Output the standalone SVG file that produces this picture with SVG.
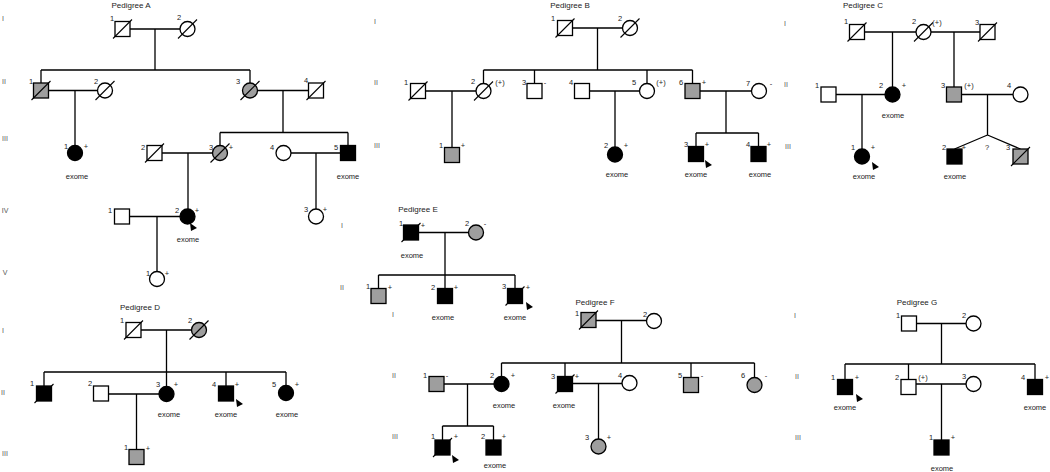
<svg xmlns="http://www.w3.org/2000/svg" xmlns:xlink="http://www.w3.org/1999/xlink" width="1050" height="472" viewBox="0 0 1050 472">
<style>
.w{fill:#fff;stroke:#000;stroke-width:1.3}
.g{fill:#9e9e9e;stroke:#000;stroke-width:1.3}
.b{fill:#000;stroke:#000;stroke-width:1.3}
.d{stroke:#000;stroke-width:1.1}
.ln{stroke:#000;stroke-width:1.3;fill:none}
text{font-family:"Liberation Sans",Arial,sans-serif;font-size:7.5px;fill:#222;text-anchor:middle}
.ttl{font-size:8px}
.gen{font-size:7px;fill:#555}
</style>
<defs>
<path id="pb" d="M-3,-4 L4,1 L-2,4 Z" fill="#000"/>
</defs>
<rect width="1050" height="472" fill="#fff"/>

<!-- ================= Connectors ================= -->
<g id="connectors" class="ln">
<!-- A -->
<path d="M130,29H180 M155,29V70 M41,70H250 M41,70V83 M250,70V83"/>
<path d="M48.5,90.5H97.5 M75,90.5V145.5"/>
<path d="M257.5,90.5H308.5 M283,90.5V132.5 M220,132.5H348 M220,132.5V145.5 M348,132.5V145.5"/>
<path d="M162,153H212.5 M188,153V209"/>
<path d="M291,153H340.5 M316,153V209"/>
<path d="M129.5,216.5H180 M157,216.5V271.5"/>
<!-- B -->
<path d="M572.5,28H622.5 M597.5,28V70 M483.5,70H692.5 M483.5,70V83.5 M534.5,70V83.5 M647,70V83.5 M692.5,70V83.5"/>
<path d="M425.5,91H476 M452,91V147.5"/>
<path d="M589.5,91H639.5 M615,91V147"/>
<path d="M700,91H751.5 M726,91V133 M696,133H758.5 M696,133V146.5 M758.5,133V146.5"/>
<!-- C -->
<path d="M864.5,32H916 M892.5,32V87"/>
<path d="M931,32H980 M954,32V87"/>
<path d="M836,94.5H885 M862,94.5V149"/>
<path d="M961.5,94.5H1013 M987.5,94.5V135 M987.5,135L954.5,149 M987.5,135L1020.5,149"/>
<!-- E -->
<path d="M418.5,232.5H468.5 M445,232.5V275 M378.5,275H515 M378.5,275V288.5 M445,275V288.5 M515,275V288.5"/>
<!-- D -->
<path d="M141,330H191.5 M166.5,330V372 M44,372H286 M44,372V386 M166.5,372V386.5 M226,372V386 M286,372V385.5"/>
<path d="M108.5,394H159 M136.5,394V449.5"/>
<!-- F -->
<path d="M596,320.5H646.5 M621.5,320.5V363 M501.5,363H754.5 M501.5,363V376.5 M565,363V376.5 M691,363V377.5 M754.5,363V377.5"/>
<path d="M444,384H494 M467.5,384V426 M442.5,426H493.5 M442.5,426V440 M493.5,426V440"/>
<path d="M572.5,383.5H622 M598.5,383.5V439"/>
<!-- G -->
<path d="M916.5,323.5H966 M941.5,323.5V364 M845,364H1035 M845,364V379.5 M908.5,364V379.5 M1035,364V379.5"/>
<path d="M916,384H966 M941.5,384V440"/>
</g>

<!-- ================= Titles & generation labels ================= -->
<g id="labels">
<text class="ttl" x="131" y="8">Pedigree A</text>
<text class="ttl" x="570" y="8">Pedigree B</text>
<text class="ttl" x="863" y="8">Pedigree C</text>
<text class="ttl" x="140" y="310">Pedigree D</text>
<text class="ttl" x="418" y="212">Pedigree E</text>
<text class="ttl" x="595" y="305">Pedigree F</text>
<text class="ttl" x="917" y="305">Pedigree G</text>
<text class="gen" x="3" y="21">I</text>
<text class="gen" x="4" y="84">II</text>
<text class="gen" x="5" y="141">III</text>
<text class="gen" x="5" y="213">IV</text>
<text class="gen" x="5" y="275">V</text>
<text class="gen" x="375" y="24">I</text>
<text class="gen" x="376" y="85">II</text>
<text class="gen" x="377" y="148">III</text>
<text class="gen" x="785" y="26">I</text>
<text class="gen" x="786" y="87">II</text>
<text class="gen" x="788" y="149">III</text>
<text class="gen" x="342" y="228">I</text>
<text class="gen" x="342" y="290">II</text>
<text class="gen" x="3" y="333">I</text>
<text class="gen" x="3" y="395">II</text>
<text class="gen" x="5" y="456">III</text>
<text class="gen" x="393" y="317">I</text>
<text class="gen" x="394" y="378">II</text>
<text class="gen" x="395" y="439">III</text>
<text class="gen" x="795" y="318">I</text>
<text class="gen" x="797" y="379">II</text>
<text class="gen" x="798" y="440">III</text>
</g>

<!-- ================= Pedigree A ================= -->
<g id="A-I-1"><rect class="w" x="115" y="21.5" width="15" height="15"/><line class="d" x1="113" y1="38.5" x2="132" y2="19.5"/><text x="112" y="21">1</text></g>
<g id="A-I-2"><circle class="w" cx="187.5" cy="29" r="7.5"/><line class="d" x1="178" y1="38.5" x2="197" y2="19.5"/><text x="179" y="20">2</text></g>
<g id="A-II-1"><rect class="g" x="33.5" y="83" width="15" height="15"/><line class="d" x1="31.5" y1="100" x2="50.5" y2="81"/><text x="31" y="84">1</text></g>
<g id="A-II-2"><circle class="w" cx="105" cy="90.5" r="7.5"/><line class="d" x1="95.5" y1="100" x2="114.5" y2="81"/><text x="96" y="84">2</text></g>
<g id="A-II-3"><circle class="g" cx="250" cy="90.5" r="7.5"/><line class="d" x1="240.5" y1="100" x2="259.5" y2="81"/><text x="238" y="84">3</text></g>
<g id="A-II-4"><rect class="w" x="308.5" y="83" width="15" height="15"/><line class="d" x1="306.5" y1="100" x2="325.5" y2="81"/><text x="306" y="83">4</text></g>
<g id="A-III-1"><circle class="b" cx="75" cy="153" r="7.5"/><text x="66" y="149">1</text><text x="86" y="149">+</text><text x="77" y="179">exome</text></g>
<g id="A-III-2"><rect class="w" x="147" y="145.5" width="15" height="15"/><line class="d" x1="145" y1="162.5" x2="164" y2="143.5"/><text x="143" y="150">2</text></g>
<g id="A-III-3"><circle class="g" cx="220" cy="153" r="7.5"/><line class="d" x1="210.5" y1="162.5" x2="229.5" y2="143.5"/><text x="211" y="150">3</text><text x="231" y="150">+</text></g>
<g id="A-III-4"><circle class="w" cx="283.5" cy="153" r="7.5"/><text x="272" y="150">4</text></g>
<g id="A-III-5"><rect class="b" x="340.5" y="145.5" width="15" height="15"/><text x="336" y="150">5</text><text x="348" y="179">exome</text></g>
<g id="A-IV-1"><rect class="w" x="114.5" y="209" width="15" height="15"/><text x="110" y="213">1</text></g>
<g id="A-IV-2"><circle class="b" cx="187.5" cy="216.5" r="7.5"/><text x="177" y="213">2</text><text x="197" y="213">+</text><use href="#pb" x="193" y="227"/><text x="188" y="242">exome</text></g>
<g id="A-IV-3"><circle class="w" cx="316" cy="216.5" r="7.5"/><text x="306" y="212">3</text><text x="325" y="212">+</text></g>
<g id="A-V-1"><circle class="w" cx="157" cy="279" r="7.5"/><text x="148" y="276">1</text><text x="167" y="276">+</text></g>

<!-- ================= Pedigree B ================= -->
<g id="B-I-1"><rect class="w" x="557.5" y="20.5" width="15" height="15"/><line class="d" x1="555.5" y1="37.5" x2="574.5" y2="18.5"/><text x="553" y="21">1</text></g>
<g id="B-I-2"><circle class="w" cx="630" cy="28" r="7.5"/><line class="d" x1="620.5" y1="37.5" x2="639.5" y2="18.5"/><text x="620" y="21">2</text></g>
<g id="B-II-1"><rect class="w" x="410.5" y="83.5" width="15" height="15"/><line class="d" x1="408.5" y1="100.5" x2="427.5" y2="81.5"/><text x="406" y="85">1</text></g>
<g id="B-II-2"><circle class="w" cx="483.5" cy="91" r="7.5"/><line class="d" x1="474" y1="100.5" x2="493" y2="81.5"/><text x="473" y="84">2</text><text x="500" y="85">(+)</text></g>
<g id="B-II-3"><rect class="w" x="527" y="83.5" width="15" height="15"/><text x="524" y="85">3</text><text x="545" y="85">-</text></g>
<g id="B-II-4"><rect class="w" x="574.5" y="83.5" width="15" height="15"/><text x="571" y="85">4</text></g>
<g id="B-II-5"><circle class="w" cx="647" cy="91" r="7.5"/><text x="634" y="85">5</text><text x="661" y="85">(+)</text></g>
<g id="B-II-6"><rect class="g" x="685" y="83.5" width="15" height="15"/><text x="681" y="85">6</text><text x="704" y="85">+</text></g>
<g id="B-II-7"><circle class="w" cx="759" cy="91" r="7.5"/><text x="748" y="86">7</text><text x="771" y="86">-</text></g>
<g id="B-III-1"><rect class="g" x="444.5" y="147.5" width="15" height="15"/><text x="441" y="148">1</text><text x="463" y="148">+</text></g>
<g id="B-III-2"><circle class="b" cx="615" cy="154.5" r="7.5"/><text x="606" y="148">2</text><text x="626" y="148">+</text><text x="617" y="177">exome</text></g>
<g id="B-III-3"><rect class="b" x="688.5" y="146.5" width="15" height="15"/><text x="686" y="146.5">3</text><text x="707" y="146.5">+</text><use href="#pb" x="708" y="164"/><text x="696" y="177">exome</text></g>
<g id="B-III-4"><rect class="b" x="751" y="146.5" width="15" height="15"/><text x="748" y="146.5">4</text><text x="769" y="146.5">+</text><text x="760" y="177">exome</text></g>

<!-- ================= Pedigree C ================= -->
<g id="C-I-1"><rect class="w" x="849.5" y="24.5" width="15" height="15"/><line class="d" x1="847.5" y1="41.5" x2="866.5" y2="22.5"/><text x="846" y="24">1</text></g>
<g id="C-I-2"><circle class="w" cx="923.5" cy="32" r="7.5"/><line class="d" x1="914" y1="41.5" x2="933" y2="22.5"/><text x="914" y="24">2</text><text x="937" y="25">(+)</text></g>
<g id="C-I-3"><rect class="w" x="980" y="24.5" width="15" height="15"/><line class="d" x1="978" y1="41.5" x2="997" y2="22.5"/><text x="977" y="25">3</text></g>
<g id="C-II-1"><rect class="w" x="821" y="87" width="15" height="15"/><text x="817" y="88">1</text></g>
<g id="C-II-2"><circle class="b" cx="892.5" cy="94.5" r="7.5"/><text x="881" y="88">2</text><text x="904" y="88">+</text><text x="893" y="118">exome</text></g>
<g id="C-II-3"><rect class="g" x="946.5" y="87" width="15" height="15"/><text x="943" y="88">3</text><text x="969" y="88">(+)</text></g>
<g id="C-II-4"><circle class="w" cx="1020.5" cy="94.5" r="7.5"/><text x="1009" y="88">4</text></g>
<g id="C-III-1"><circle class="b" cx="862" cy="156.5" r="7.5"/><text x="853" y="150">1</text><text x="873" y="150">+</text><use href="#pb" x="875" y="166"/><text x="864" y="179">exome</text></g>
<g id="C-twin"><text x="987" y="150">?</text></g>
<g id="C-III-2"><rect class="b" x="947" y="149" width="15" height="15"/><text x="944" y="150">2</text><text x="964" y="150">+</text><text x="955" y="179">exome</text></g>
<g id="C-III-3"><rect class="g" x="1013" y="149" width="15" height="15"/><line class="d" x1="1011" y1="166" x2="1030" y2="147"/><text x="1008" y="150">3</text></g>

<!-- ================= Pedigree E ================= -->
<g id="E-I-1"><rect class="b" x="403.5" y="225" width="15" height="15"/><line class="d" x1="401.5" y1="242" x2="420.5" y2="223"/><text x="401" y="226">1</text><text x="423" y="228">+</text><text x="412" y="258">exome</text></g>
<g id="E-I-2"><circle class="g" cx="476" cy="232.5" r="7.5"/><text x="467" y="226">2</text><text x="485" y="226">-</text></g>
<g id="E-II-1"><rect class="g" x="371" y="288.5" width="15" height="15"/><text x="368" y="289">1</text><text x="390" y="290">+</text></g>
<g id="E-II-2"><rect class="b" x="437.5" y="288.5" width="15" height="15"/><text x="433" y="290">2</text><text x="456" y="290">+</text><text x="443" y="320">exome</text></g>
<g id="E-II-3"><rect class="b" x="507.5" y="288.5" width="15" height="15"/><line class="d" x1="505.5" y1="305.5" x2="524.5" y2="286.5"/><text x="504" y="289">3</text><text x="528" y="290">+</text><use href="#pb" x="529" y="306"/><text x="515" y="320">exome</text></g>

<!-- ================= Pedigree D ================= -->
<g id="D-I-1"><rect class="w" x="126" y="322.5" width="15" height="15"/><line class="d" x1="124" y1="339.5" x2="143" y2="320.5"/><text x="122" y="323">1</text></g>
<g id="D-I-2"><circle class="g" cx="199" cy="330" r="7.5"/><line class="d" x1="189.5" y1="339.5" x2="208.5" y2="320.5"/><text x="190" y="323">2</text></g>
<g id="D-II-1"><rect class="b" x="36.5" y="386" width="15" height="15"/><line class="d" x1="34.5" y1="403" x2="53.5" y2="384"/><text x="32" y="386">1</text></g>
<g id="D-II-2"><rect class="w" x="93.5" y="386" width="15" height="15"/><text x="90" y="386">2</text></g>
<g id="D-II-3"><circle class="b" cx="166.5" cy="394" r="7.5"/><text x="158" y="387">3</text><text x="176" y="387">+</text><text x="169" y="417">exome</text></g>
<g id="D-II-4"><rect class="b" x="218.5" y="386" width="15" height="15"/><text x="214" y="387">4</text><text x="237" y="387">+</text><use href="#pb" x="239" y="403"/><text x="226" y="417">exome</text></g>
<g id="D-II-5"><circle class="b" cx="286" cy="393" r="7.5"/><text x="274" y="387">5</text><text x="297" y="387">+</text><text x="287" y="417">exome</text></g>
<g id="D-III-1"><rect class="g" x="129" y="449.5" width="15" height="15"/><text x="126" y="450">1</text><text x="148" y="451">+</text></g>

<!-- ================= Pedigree F ================= -->
<g id="F-I-1"><rect class="g" x="581" y="312.5" width="15" height="15"/><line class="d" x1="579" y1="329.5" x2="598" y2="310.5"/><text x="577" y="316">1</text></g>
<g id="F-I-2"><circle class="w" cx="654" cy="321" r="7.5"/><text x="645" y="317">2</text></g>
<g id="F-II-1"><rect class="g" x="429" y="376.5" width="15" height="15"/><text x="425" y="378">1</text><text x="447" y="378">-</text></g>
<g id="F-II-2"><circle class="b" cx="501.5" cy="384" r="7.5"/><text x="492" y="378">2</text><text x="513" y="378">+</text><text x="504" y="408">exome</text></g>
<g id="F-II-3"><rect class="b" x="557.5" y="376.5" width="15" height="15"/><line class="d" x1="555.5" y1="393.5" x2="574.5" y2="374.5"/><text x="553" y="379">3</text><text x="577" y="379">+</text><text x="564" y="408">exome</text></g>
<g id="F-II-4"><circle class="w" cx="629.5" cy="383" r="7.5"/><text x="620" y="378">4</text></g>
<g id="F-II-5"><rect class="g" x="683.5" y="377.5" width="15" height="15"/><text x="680" y="378">5</text><text x="702" y="378">-</text></g>
<g id="F-II-6"><circle class="g" cx="754.5" cy="385" r="7.5"/><text x="743" y="378">6</text><text x="766" y="378">-</text></g>
<g id="F-III-1"><rect class="b" x="435" y="440" width="15" height="15"/><line class="d" x1="433" y1="457" x2="452" y2="438"/><text x="433" y="439">1</text><text x="456" y="439">+</text><use href="#pb" x="455" y="459"/></g>
<g id="F-III-2"><rect class="b" x="486" y="440" width="15" height="15"/><text x="483" y="439">2</text><text x="504" y="439">+</text><text x="495" y="468">exome</text></g>
<g id="F-III-3"><circle class="g" cx="598.5" cy="446.5" r="7.5"/><text x="587" y="440">3</text><text x="609" y="440">+</text></g>

<!-- ================= Pedigree G ================= -->
<g id="G-I-1"><rect class="w" x="901.5" y="316" width="15" height="15"/><text x="898" y="318">1</text></g>
<g id="G-I-2"><circle class="w" cx="973.5" cy="323.5" r="7.5"/><text x="964" y="318">2</text></g>
<g id="G-II-1"><rect class="b" x="837.5" y="379.5" width="15" height="15"/><text x="833" y="380">1</text><text x="857" y="380">+</text><use href="#pb" x="859" y="398"/><text x="845" y="410">exome</text></g>
<g id="G-II-2"><rect class="w" x="901" y="379.5" width="15" height="15"/><text x="897" y="380">2</text><text x="923" y="380">(+)</text></g>
<g id="G-II-3"><circle class="w" cx="973.5" cy="384" r="7.5"/><text x="964" y="379">3</text></g>
<g id="G-II-4"><rect class="b" x="1027.5" y="379.5" width="15" height="15"/><text x="1023" y="380">4</text><text x="1047" y="380">+</text><text x="1035" y="410">exome</text></g>
<g id="G-III-1"><rect class="b" x="934" y="440" width="15" height="15"/><text x="931" y="440">1</text><text x="953" y="440">+</text><text x="942" y="471">exome</text></g>
</svg>
